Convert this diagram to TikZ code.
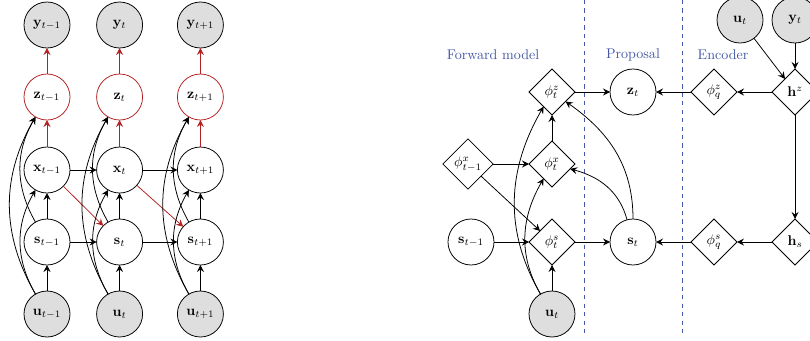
\documentclass[tikz,border=0pt]{standalone}
\usetikzlibrary{positioning,shapes.geometric,arrows.meta}
\definecolor{darkred}{RGB}{178,34,34}
\definecolor{darkblue}{RGB}{68,88,165}

\begin{document}
\begin{tikzpicture}
[x=0.25mm,y=-0.25mm,
 every node/.style={draw=black,minimum size=11.5mm,inner sep=0.5mm,outer sep=0mm},
 var/.style={circle},
 obs/.style={circle,fill=black!13},
 lat/.style={circle,draw=darkred},
 fun/.style={diamond,aspect=1},
 txt/.style={draw=none,minimum size=0mm,text=darkblue},
 >={Stealth[length=5pt,width=5pt,inset=1.8pt]},
 line width=0.55pt]
\useasboundingbox (0,0) rectangle (810,340);

% unrolled model
\node[obs] (ya) at (47,25)                    {$\mathbf{y}_{t-1}$};
\node[obs] (yb) [on grid,right=18.15mm of ya] {$\mathbf{y}_t$};
\node[obs] (yc) [on grid,right=20.2mm of yb]  {$\mathbf{y}_{t+1}$};
\node[lat] (za) [on grid,below=18mm of ya]    {$\mathbf{z}_{t-1}$};
\node[lat] (zb) [on grid,below=18mm of yb]    {$\mathbf{z}_t$};
\node[lat] (zc) [on grid,below=18mm of yc]    {$\mathbf{z}_{t+1}$};
\node[var] (xa) [on grid,below=18.25mm of za] {$\mathbf{x}_{t-1}$};
\node[var] (xb) [on grid,below=18.25mm of zb] {$\mathbf{x}_t$};
\node[var] (xc) [on grid,below=18.25mm of zc] {$\mathbf{x}_{t+1}$};
\node[var] (sa) [on grid,below=18mm of xa]    {$\mathbf{s}_{t-1}$};
\node[var] (sb) [on grid,below=18mm of xb]    {$\mathbf{s}_t$};
\node[var] (sc) [on grid,below=18mm of xc]    {$\mathbf{s}_{t+1}$};
\node[obs] (ua) [on grid,below=18mm of sa]    {$\mathbf{u}_{t-1}$};
\node[obs] (ub) [on grid,below=18mm of sb]    {$\mathbf{u}_t$};
\node[obs] (uc) [on grid,below=18mm of sc]    {$\mathbf{u}_{t+1}$};
\path[->] (ua) edge (sa);
\path[->] (ub) edge (sb);
\path[->] (uc) edge (sc);
\path[->] (sa) edge (xa);
\path[->] (sb) edge (xb);
\path[->] (sc) edge (xc);
\path[->] (sa) edge (sb);
\path[->] (sb) edge (sc);
\path[->] (xa) edge (xb);
\path[->] (xb) edge (xc);
\path[->,darkred] (xa) edge (za);
\path[->,darkred] (xb) edge (zb);
\path[->,darkred] (xc) edge (zc);
\path[->,darkred] (za) edge (ya);
\path[->,darkred] (zb) edge (yb);
\path[->,darkred] (zc) edge (yc);
\path[->,darkred] (xa) edge (sb);
\path[->,darkred] (xb) edge (sc);
\path[->] (ua) edge[out=120,in=240] (xa);
\path[->] (ub) edge[out=120,in=240] (xb);
\path[->] (uc) edge[out=120,in=240] (xc);
\path[->] (ua) edge[out=120,in=240] (za);
\path[->] (ub) edge[out=120,in=240] (zb);
\path[->] (uc) edge[out=120,in=240] (zc);
\path[->] (sa) edge[out=120,in=240] (za);
\path[->] (sb) edge[out=120,in=240] (zb);
\path[->] (sc) edge[out=120,in=240] (zc);

% forward model, proposal and encoder
\node[fun] (phiz)  at (552,92)                     {$\phi^z_t$};
\node[var] (zt)    [on grid,right=20.25mm of phiz]  {$\mathbf{z}_t$};
\node[fun] (phiqz) [on grid,right=20.25mm of zt]    {$\phi^z_q$};
\node[fun] (hz)    [on grid,right=20.25mm of phiqz] {$\mathbf{h}^z$};
\node[fun] (phix)  [on grid,below=18mm of phiz]     {$\phi^x_t$};
\node[fun] (phis)  [on grid,below=19.5mm of phix]   {$\phi^s_t$};
\node[obs] (ut)    [on grid,below=18mm of phis]     {$\mathbf{u}_t$};
\node[fun] (phixm) [on grid,left=21mm of phix]      {$\phi^x_{t-1}$};
\node[var] (sm)    [on grid,left=20.25mm of phis]   {$\mathbf{s}_{t-1}$};
\node[var] (st)    [on grid,right=20.25mm of phis]  {$\mathbf{s}_t$};
\node[fun] (phiqs) [on grid,right=20.25mm of st]    {$\phi^s_q$};
\node[fun] (hs)    [on grid,right=20.25mm of phiqs] {$\mathbf{h}_s$};
\node[obs] (uu)    [on grid,above left=18mm and 13.75mm of hz] {$\mathbf{u}_t$};
\node[obs] (yy)    [on grid,above=18mm of hz]       {$\mathbf{y}_t$};
\node[txt] (fwd)   [on grid,above left=9.25mm and 14.75mm of phiz]  {Forward model};
\node[txt] (prop)  [on grid,above=9.25mm of zt]                    {Proposal};
\node[txt] (enc)   [on grid,above right=9.25mm and 2.25mm of phiqz] {Encoder};
\draw[dashed,darkblue] (584,0) -- (584,333);
\draw[dashed,darkblue] (682,0) -- (682,333);
\path[->] (phixm) edge (phix);
\path[->] (phixm) edge (phis);
\path[->] (sm) edge (phis);
\path[->] (ut) edge (phis);
\path[->] (ut) edge[out=120,in=240] (phix);
\path[->] (ut) edge[out=120,in=240] (phiz);
\path[->] (phix) edge (phiz);
\path[->] (phis) edge (st);
\path[->] (phiz) edge (zt);
\path[->] (st) edge[out=105,in=-15] (phix);
\path[->] (st) edge[out=90,in=-35] (phiz);
\path[->] (hz) edge (phiqz);
\path[->] (phiqz) edge (zt);
\path[->] (hz) edge (hs);
\path[->] (hs) edge (phiqs);
\path[->] (phiqs) edge (st);
\path[->] (uu) edge (hz);
\path[->] (yy) edge (hz);
\end{tikzpicture}
\end{document}
